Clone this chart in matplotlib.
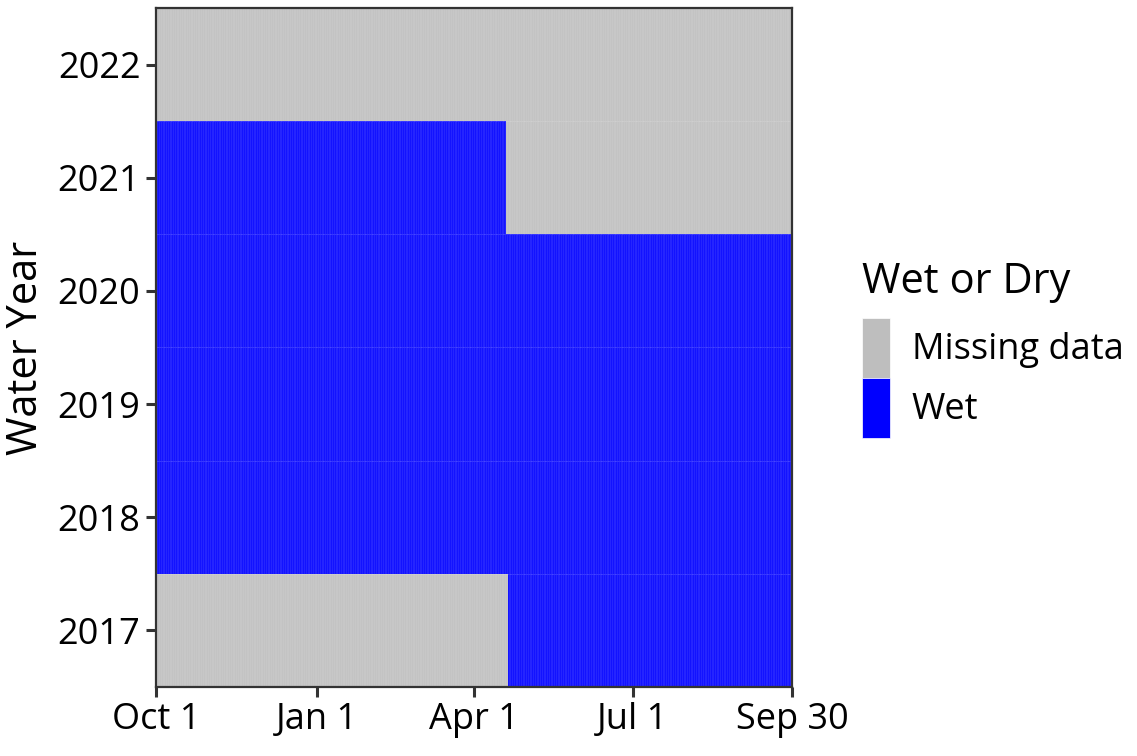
import numpy as np
import matplotlib
matplotlib.use("Agg")
import matplotlib.pyplot as plt
from matplotlib.colors import ListedColormap
from matplotlib.patches import Patch

plt.rcParams['font.family'] = ['Open Sans', 'DejaVu Sans']

# podaci: po vodnoj godini, dani (1 = Oct 1, 365 = Sep 30) i stanje
years = [2017, 2018, 2019, 2020, 2021, 2022]
seg_year = [2017, 2017, 2018, 2019, 2020, 2021, 2021, 2022]
seg_start = [1, 203, 1, 1, 1, 1, 202, 1]
seg_end = [202, 365, 365, 365, 365, 201, 365, 365]
seg_status = ['Missing data', 'Wet', 'Wet', 'Wet', 'Wet', 'Wet', 'Missing data', 'Missing data']

categories = ['Missing data', 'Wet']
colors = ['#BEBEBE', '#0000FF']

tick_days = [1, 93, 183, 274, 365]
tick_labels = ['Oct 1', 'Jan 1', 'Apr 1', 'Jul 1', 'Sep 30']

n_days = 365
grid = np.full((len(years), n_days), np.nan)
for y, s, e, st in zip(seg_year, seg_start, seg_end, seg_status):
    grid[years.index(y), s - 1:e] = categories.index(st)

fig = plt.figure(figsize=(11.37, 7.56), dpi=100)
ax = fig.add_axes([0.137, 0.0913, 0.5596, 0.8981])

x_edges = np.arange(0.5, n_days + 1.5, 1)
y_edges = np.arange(years[0] - 0.5, years[-1] + 1.5, 1)
ax.pcolormesh(x_edges, y_edges, grid, cmap=ListedColormap(colors), vmin=-0.5, vmax=1.5,
              edgecolors=(1, 1, 1, 0.08), linewidth=0.25)

ax.set_xlim(1, 365)
ax.set_ylim(years[0] - 0.5, years[-1] + 0.5)
ax.set_xticks(tick_days)
ax.set_xticklabels(tick_labels)
ax.set_yticks(years)
ax.set_yticklabels([str(y) for y in years])
ax.tick_params(axis='both', labelsize=26, length=7, width=2.2, color='#333333', pad=4)
for sp in ax.spines.values():
    sp.set_color('#333333')
    sp.set_linewidth(1.6)
ax.set_ylabel('Water Year', fontsize=30, labelpad=8)

# legenda: naslov posebno, kvadrati ispod
fig.text(0.7585, 0.6124, 'Wet or Dry', fontsize=30, ha='left', va='baseline')
handles = [Patch(facecolor=c, edgecolor='white', linewidth=0.5) for c in colors]
fig.legend(handles, categories, loc='upper left', bbox_to_anchor=(0.758, 0.5794),
           frameon=False, fontsize=26,
           handlelength=0.78, handleheight=2.17, handletextpad=0.6,
           labelspacing=0.0, borderaxespad=0, borderpad=0)

fig.savefig('out.png', dpi=100)
